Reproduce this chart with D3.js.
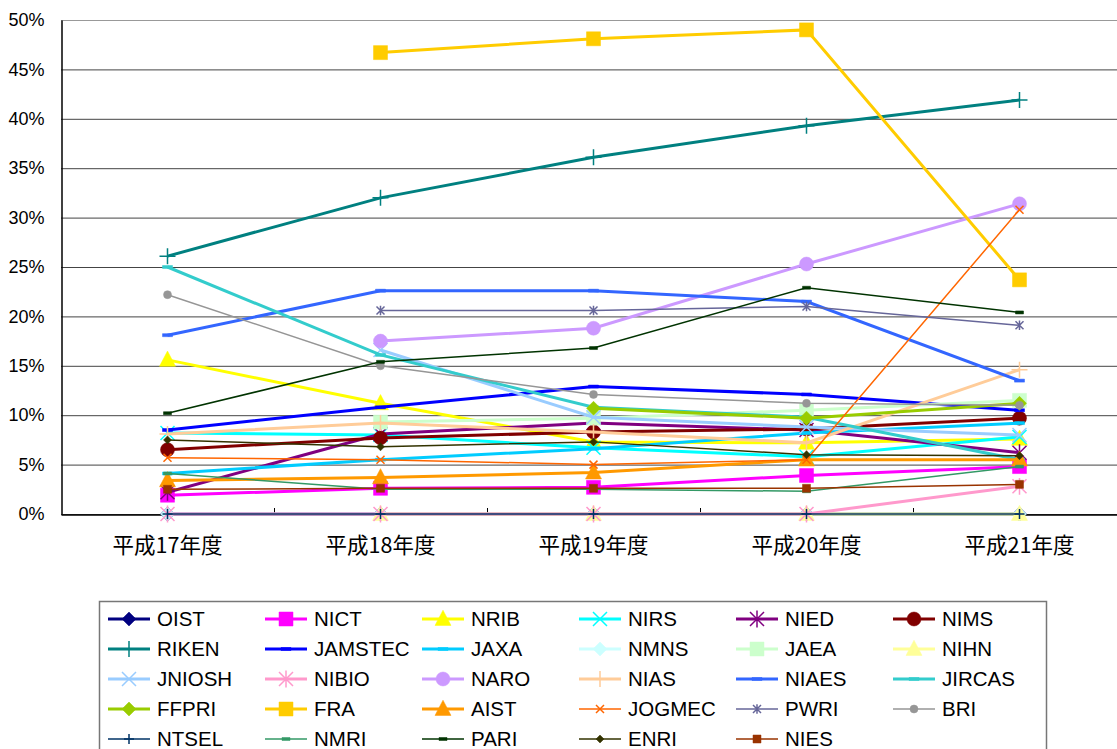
<!DOCTYPE html>
<html>
<head>
<meta charset="utf-8">
<script src="https://cdn.jsdelivr.net/npm/d3@7"></script>
<style>
  body { margin: 0; background: #fff; }
  svg { display: block; font-family: "Liberation Sans", Arial, sans-serif; }
</style>
</head>
<body>
<svg id="chart"></svg>
<script>
// years (categories)
const years = ["平成17年度", "平成18年度", "平成19年度", "平成20年度", "平成21年度"];
const yTicks = [0, 5, 10, 15, 20, 25, 30, 35, 40, 45, 50];

// series values (%), null = no data
const oist = [0, 0, 0, 0, 0];
const nict = [1.9, 2.6, 2.7, 3.9, 4.8];
const nrib = [15.6, 11.2, 7.3, 7.2, 7.6];
const nirs = [8.2, 8.0, 6.7, 5.8, 7.8];
const nied = [2.2, 8.1, 9.2, 8.5, 6.2];
const nims = [6.5, 7.7, 8.3, 8.6, 9.7];
const riken = [26.1, 32.0, 36.1, 39.3, 41.9];
const jamstec = [8.5, 10.8, 12.9, 12.1, 10.5];
const jaxa = [4.1, 5.5, 6.6, 8.2, 9.2];
const nmns = [0, 0, 0, 0, 0];
const jaea = [null, 9.3, 9.7, 10.5, 11.5];
const nihn = [null, 0, 0, 0, 0];
const jniosh = [null, 16.6, 9.8, 8.8, 8.0];
const nibio = [0, 0, 0, 0, 2.8];
const naro = [null, 17.5, 18.8, 25.3, 31.4];
const nias = [8.1, 9.2, 8.3, 7.2, 14.6];
const niaes = [18.1, 22.6, 22.6, 21.5, 13.5];
const jircas = [25.0, 16.1, 10.8, 9.8, 5.5];
const ffpri = [null, null, 10.7, 9.7, 11.2];
const fra = [null, 46.7, 48.1, 49.0, 23.7];
const aist = [3.4, 3.7, 4.2, 5.5, 5.5];
const jogmec = [5.7, 5.5, 5.0, 5.5, 30.8];
const pwri = [null, 20.6, 20.6, 21.0, 19.1];
const bri = [22.2, 15.0, 12.1, 11.2, 11.0];
const ntsel = [0, 0, 0, 0, 0];
const nmri = [4.1, 2.5, 2.5, 2.3, 4.8];
const pari = [10.2, 15.4, 16.8, 22.9, 20.4];
const enri = [7.5, 6.8, 7.3, 6.0, 5.9];
const nies = [2.5, 2.6, 2.6, 2.6, 3.0];

// name, values, colour, marker, marker size, line width
const series = [
  ["OIST", oist, "#000080", "diamond", 7, 3],
  ["NICT", nict, "#ff00ff", "square", 7, 3],
  ["NRIB", nrib, "#ffff00", "triangle", 8, 3],
  ["NIRS", nirs, "#00ffff", "x", 7, 3],
  ["NIED", nied, "#800080", "star", 7, 3],
  ["NIMS", nims, "#800000", "circle", 7, 3],
  ["RIKEN", riken, "#008080", "plus", 8, 3],
  ["JAMSTEC", jamstec, "#0000ff", "dash", 5, 3],
  ["JAXA", jaxa, "#00ccff", "dash", 5, 3],
  ["NMNS", nmns, "#ccffff", "diamond", 7, 3],
  ["JAEA", jaea, "#ccffcc", "square", 7, 3],
  ["NIHN", nihn, "#ffff99", "triangle", 8, 3],
  ["JNIOSH", jniosh, "#99ccff", "x", 7, 3],
  ["NIBIO", nibio, "#ff99cc", "star", 7, 3],
  ["NARO", naro, "#cc99ff", "circle", 7, 3],
  ["NIAS", nias, "#ffcc99", "plus", 8, 3],
  ["NIAES", niaes, "#3366ff", "dash", 5, 3],
  ["JIRCAS", jircas, "#33cccc", "dash", 5, 3],
  ["FFPRI", ffpri, "#99cc00", "diamond", 7, 3],
  ["FRA", fra, "#ffcc00", "square", 7, 3],
  ["AIST", aist, "#ff9900", "triangle", 8, 3],
  ["JOGMEC", jogmec, "#ff6600", "x", 4, 1.5],
  ["PWRI", pwri, "#666699", "star", 4, 1.5],
  ["BRI", bri, "#969696", "circle", 4, 1.5],
  ["NTSEL", ntsel, "#003366", "plus", 5, 1.5],
  ["NMRI", nmri, "#339966", "dash", 4, 1.5],
  ["PARI", pari, "#003300", "dash", 4, 1.5],
  ["ENRI", enri, "#333300", "diamond", 4, 1.5],
  ["NIES", nies, "#993300", "square", 4, 1.5]
];

const width = 1117, height = 749;
const margin = { left: 61, top: 20, bottom: 514 };
const band = 213;

const svg = d3.select("#chart").attr("width", width).attr("height", height);

const x = d3.scaleBand().domain(years).range([margin.left, margin.left + band * years.length]);
const y = d3.scaleLinear().domain([0, 50]).range([margin.bottom, margin.top]);
const cx = d => x(d) + x.bandwidth() / 2;

// gridlines
svg.append("g")
  .selectAll("line")
  .data(yTicks)
  .join("line")
  .attr("x1", margin.left).attr("x2", width)
  .attr("y1", d => y(d) + 0.5).attr("y2", d => y(d) + 0.5)
  .attr("stroke", d => d === 50 ? "#999" : "#444")
  .attr("stroke-width", 1);

// y axis
const yAxis = svg.append("g")
  .attr("transform", `translate(${margin.left + 0.5},0)`)
  .call(d3.axisLeft(y).tickValues(yTicks).tickFormat(d => d + "%").tickSize(0).tickPadding(17));
yAxis.select(".domain").attr("stroke", "#000").attr("stroke-width", 1.5);
yAxis.selectAll("text").attr("font-size", 18).attr("fill", "#000")
  .attr("font-family", "Liberation Sans, Arial, sans-serif");

// x axis
const xAxis = svg.append("g")
  .attr("transform", `translate(0,${margin.bottom + 0.5})`)
  .call(d3.axisBottom(x).tickSize(0).tickPadding(23));
xAxis.select(".domain").attr("stroke", "#000").attr("stroke-width", 1.5);
xAxis.selectAll("text").attr("font-size", 21.5).attr("fill", "#000")
  .attr("font-family", "'Noto Sans CJK JP', sans-serif");

// inner tick marks at category borders
svg.append("g")
  .selectAll("line")
  .data(years.slice(1))
  .join("line")
  .attr("x1", d => x(d) + 0.5).attr("x2", d => x(d) + 0.5)
  .attr("y1", margin.bottom - 6).attr("y2", margin.bottom)
  .attr("stroke", "#000");

// marker shapes
function marker(type, s) {
  switch (type) {
    case "diamond": return `M0,${-s}L${s},0L0,${s}L${-s},0Z`;
    case "square": return `M${-s},${-s}H${s}V${s}H${-s}Z`;
    case "triangle": return `M0,${-s * 1.1}L${s},${s * 0.8}L${-s},${s * 0.8}Z`;
    case "circle": return d3.symbol(d3.symbolCircle, Math.PI * s * s)();
    case "x": return `M${-s},${-s}L${s},${s}M${-s},${s}L${s},${-s}`;
    case "plus": return `M${-s},0H${s}M0,${-s}V${s}`;
    case "star": return `M${-s},${-s}L${s},${s}M${-s},${s}L${s},${-s}M0,${-s * 1.2}V${s * 1.2}`;
    case "dash": return `M${-s},-1.5H${s}V1.5H${-s}Z`;
  }
}
const filled = t => ["diamond", "square", "triangle", "circle", "dash"].includes(t);

function drawMarker(g, type, s, color, tx, ty) {
  g.append("path")
    .attr("d", marker(type, s))
    .attr("transform", `translate(${tx},${ty})`)
    .attr("fill", filled(type) ? color : "none")
    .attr("stroke", color)
    .attr("stroke-width", filled(type) ? 0.5 : 1.5);
}

const line = d3.line()
  .defined(d => d[1] !== null)
  .x(d => cx(d[0]))
  .y(d => y(d[1]));

const plot = svg.append("g");
series.forEach(([name, vals, color, type, size, lw]) => {
  const pts = years.map((yr, i) => [yr, vals[i]]);
  const g = plot.append("g");
  g.append("path")
    .datum(pts)
    .attr("d", line)
    .attr("fill", "none")
    .attr("stroke", color)
    .attr("stroke-width", lw);
  pts.filter(p => p[1] !== null).forEach(p => drawMarker(g, type, size, color, cx(p[0]), y(p[1])));
});

// legend
const legend = svg.append("g");
legend.append("rect")
  .attr("x", 99.5).attr("y", 601.5)
  .attr("width", 947).attr("height", 160)
  .attr("fill", "#fff").attr("stroke", "#777").attr("stroke-width", 1.5);

series.forEach(([name, vals, color, type, size, lw], i) => {
  const col = i % 6, row = Math.floor(i / 6);
  const lx = 108 + col * 157, ly = 619 + row * 30;
  const g = legend.append("g");
  g.append("line")
    .attr("x1", lx).attr("x2", lx + 42)
    .attr("y1", ly).attr("y2", ly)
    .attr("stroke", color).attr("stroke-width", lw);
  drawMarker(g, type, size, color, lx + 21, ly);
  g.append("text")
    .attr("x", lx + 49).attr("y", ly)
    .attr("dy", "0.35em")
    .attr("font-size", 20.5)
    .attr("fill", "#000")
    .text(name);
});
</script>
</body>
</html>
